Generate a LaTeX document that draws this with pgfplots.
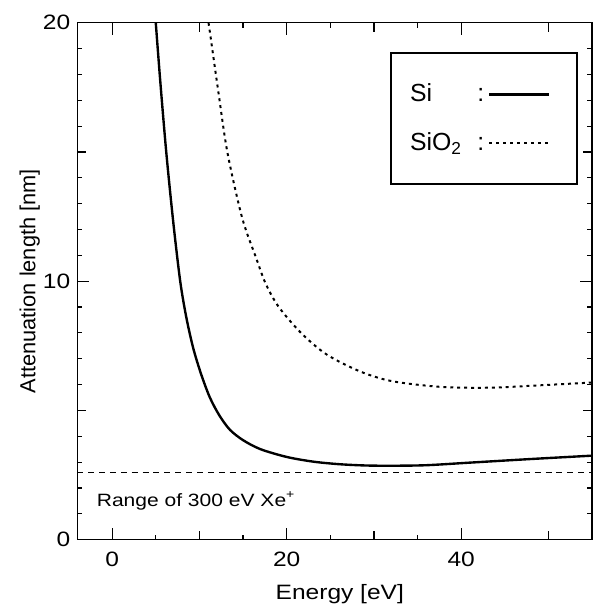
\documentclass[border=0pt]{standalone}
\usepackage{fontspec}
\setmainfont{Liberation Sans}[FakeStretch=1.18]
\newfontfamily\plainfont{Liberation Sans}
\usepackage{pgfplots}
\pgfplotsset{compat=1.18}
\begin{document}
\begin{tikzpicture}
\begin{axis}[
  name=ax,
  width=260pt, height=261pt, scale only axis,
  xmin=-4, xmax=55, ymin=0, ymax=20,
  axis line style={line width=0.7pt},
  tick align=inside,
  tick style={black, line width=0.6pt},
  xtick={0,20,40}, ytick={0,10,20},
  minor x tick num=3, minor y tick num=9,
  major tick length=6pt, minor tick length=2.5pt,
  extra x ticks={10,30,50}, extra x tick labels={},
  extra y ticks={5,15}, extra y tick labels={},
  extra tick style={major tick length=4.5pt},
  /pgf/number format/assume math mode=true,
  ticklabel style={font=\fontsize{10.5}{12}\selectfont},
  xticklabel style={yshift=-2.5pt},
  xlabel={Energy [eV]}, ylabel={Attenuation length [nm]},
  xlabel style={font=\fontsize{10.5}{12}\selectfont, at={(axis description cs:0.51,-0.115)}, anchor=base},
  ylabel style={font=\plainfont\fontsize{11}{13}\selectfont, at={(axis description cs:-0.092,0.5)}, anchor=center},
  legend plot pos=right,
  legend cell align=left,
  legend style={at={(rel axis cs:0.972,0.943)}, anchor=north east,
    draw=black, line width=1pt, inner xsep=7.5pt, inner ysep=13.5pt,
    row sep=10pt, font=\plainfont\fontsize{12.5}{14}\selectfont},
  legend image code/.code={\draw[#1] (4pt,0pt) -- (34pt,0pt); \path (40pt,0pt);},
]
\addplot[black, line width=1.2pt, smooth, tension=0.5] coordinates {
 (5.0,20) (5.5,17.8) (6.2,15) (7.0,12.3) (7.8,10) (8.5,8.6) (9.3,7.4)
 (10.2,6.4) (11.2,5.5) (12.3,4.8) (13.5,4.25) (15,3.85) (17,3.5) (20,3.2)
 (23,3.02) (26,2.92) (29,2.87) (32,2.86) (36,2.88) (41,2.98) (48,3.12) (55,3.25)};
\addlegendentry{\makebox[34pt][l]{Si}:}
\addplot[black, line width=1.0pt, dash pattern=on 1.5pt off 2pt, smooth, tension=0.5] coordinates {
 (11.05,20) (12.1,17.5) (13.2,15) (14.9,12.45) (16.5,10.9) (17.6,9.9)
 (19.1,9.0) (21.7,7.98) (24.6,7.16) (28.4,6.51) (32.1,6.13) (37.7,5.91)
 (43.3,5.88) (48.9,5.97) (55,6.08)};
\addlegendentry{\makebox[34pt][l]{SiO\textsubscript{2}}:}
\addplot[black, line width=0.6pt, dash pattern=on 3pt off 2.5pt, forget plot] coordinates {(-4,2.6) (55,2.6)};
\node[anchor=west, font=\fontsize{9}{11}\selectfont, inner sep=0pt] at (axis cs:-1.8,1.5) {Range of 300 eV Xe\textsuperscript{+}};
\end{axis}
\path ([xshift=-39pt,yshift=-32.5pt]ax.south west) rectangle ([xshift=1pt,yshift=11.5pt]ax.north east);
\end{tikzpicture}
\end{document}
